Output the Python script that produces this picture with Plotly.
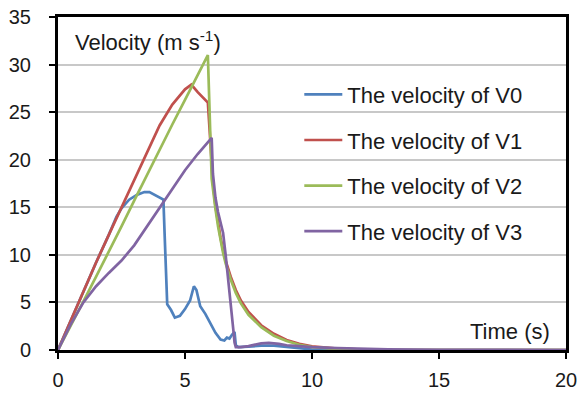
import plotly.graph_objects as go

# ---- data ----
t_v0 = [0, 0.5, 1, 1.5, 2, 2.3, 2.5, 2.8, 3.1, 3.4, 3.6, 3.8, 4.0, 4.15, 4.2, 4.25, 4.3, 4.45,
        4.6, 4.8, 5.0, 5.2, 5.35, 5.45, 5.6, 5.8, 6.0, 6.2, 6.4, 6.55, 6.65, 6.75, 6.85, 6.95,
        7.0, 7.1, 7.5, 8.0, 8.5, 9.0, 9.5, 10, 11, 20]
v_v0 = [0, 3.1, 6.2, 9.2, 12.1, 14.0, 14.9, 15.8, 16.3, 16.6, 16.6, 16.3, 16.0, 15.8, 12.0, 8.0,
        4.8, 4.2, 3.4, 3.6, 4.3, 5.2, 6.7, 6.3, 4.6, 3.8, 2.8, 1.8, 1.1, 1.0, 1.3, 1.2, 1.6, 1.9,
        0.5, 0.3, 0.35, 0.45, 0.45, 0.35, 0.2, 0.05, 0, 0]

t_v1 = [0, 0.5, 1, 1.5, 2, 2.5, 3, 3.5, 4, 4.5, 5, 5.25, 5.5, 5.9, 6.0, 6.1, 6.2, 6.3, 6.4, 6.5,
        6.6, 6.8, 7.0, 7.2, 7.5, 8.0, 8.5, 9.0, 9.5, 10, 11, 12, 13, 20]
v_v1 = [0, 3.1, 6.2, 9.2, 12.1, 15.0, 17.9, 20.8, 23.6, 25.8, 27.4, 27.9, 27.1, 26.0, 22.0, 17.6,
        15.1, 13.3, 11.8, 10.5, 9.4, 7.7, 6.3, 5.2, 4.0, 2.6, 1.7, 1.05, 0.65, 0.38, 0.14, 0.05, 0, 0]

t_v2 = [0, 0.5, 1, 1.5, 2, 2.5, 3, 3.5, 4, 4.5, 5, 5.5, 5.9, 6.05, 6.1, 6.2, 6.3, 6.4, 6.5, 6.6,
        6.8, 7.0, 7.2, 7.5, 8.0, 8.5, 9.0, 9.5, 10, 11, 12, 13, 20]
v_v2 = [0, 2.5, 5.1, 7.7, 10.3, 13.0, 15.7, 18.4, 21.0, 23.7, 26.3, 28.9, 31.0, 18.0, 16.8, 14.8,
        13.0, 11.5, 10.2, 9.1, 7.4, 6.0, 4.9, 3.7, 2.4, 1.5, 0.95, 0.55, 0.3, 0.12, 0.04, 0, 0]

t_v3 = [0, 0.5, 1, 1.5, 2, 2.5, 3, 3.5, 4, 4.5, 5, 5.5, 6.05, 6.1, 6.2, 6.3, 6.4, 6.5, 6.6, 6.7,
        6.8, 6.9, 6.95, 7.0, 7.2, 7.5, 8.0, 8.3, 8.7, 9.0, 9.5, 10, 11, 12, 13, 14, 15, 20]
v_v3 = [0, 2.7, 5.0, 6.7, 8.1, 9.4, 11.0, 13.0, 15.0, 17.0, 18.9, 20.6, 22.3, 18.5, 16.0, 14.5,
        13.3, 12.3, 10.0, 7.6, 5.2, 2.2, 0.8, 0.3, 0.3, 0.4, 0.7, 0.75, 0.65, 0.5, 0.4, 0.3, 0.2,
        0.12, 0.08, 0.05, 0.02, 0]

series_names = ["The velocity of V0", "The velocity of V1", "The velocity of V2", "The velocity of V3"]
series_colors = ["#4F81BD", "#C0504D", "#9BBB59", "#8064A2"]
x_ticks = [0, 5, 10, 15, 20]
y_ticks = [0, 5, 10, 15, 20, 25, 30, 35]

FONT = "Arial, Liberation Sans, sans-serif"

fig = go.Figure()
for i, (tt, vv) in enumerate([(t_v0, v_v0), (t_v1, v_v1), (t_v2, v_v2), (t_v3, v_v3)]):
    fig.add_trace(go.Scatter(
        x=tt, y=vv, mode="lines", name=series_names[i],
        line=dict(color=series_colors[i], width=2.7),
        legendgroup=f"g{i}", cliponaxis=True,
    ))

fig.update_layout(
    width=578, height=397,
    margin=dict(l=58, r=12, t=17, b=47),
    paper_bgcolor="white", plot_bgcolor="white",
    font=dict(family=FONT, size=20, color="#1a1a1a"),
    showlegend=True,
    legend=dict(
        x=0.475, xanchor="left", y=0.83, yanchor="top",
        bgcolor="rgba(0,0,0,0)", font=dict(size=22, family=FONT, color="#1a1a1a"),
        tracegroupgap=14, itemwidth=38, traceorder="grouped",
    ),
    xaxis=dict(
        range=[0, 20], tickvals=x_ticks, showgrid=False, zeroline=False, automargin=False,
        showline=True, linecolor="black", linewidth=3, mirror=True,
        ticks="outside", ticklen=6, tickwidth=2, tickcolor="black",
        tickfont=dict(size=20, family=FONT, color="#1a1a1a"), ticklabelstandoff=4,
    ),
    yaxis=dict(
        range=[0, 35], tickvals=y_ticks, showgrid=True, gridcolor="#c8c8c8", gridwidth=1.5,
        zeroline=False, showline=True, linecolor="black", linewidth=3, mirror=True,
        automargin=False,
        ticks="outside", ticklen=6, tickwidth=2, tickcolor="black",
        tickfont=dict(size=20, family=FONT, color="#1a1a1a"), ticklabelstandoff=14,
    ),
    annotations=[
        dict(x=0.6, y=32.5, xref="x", yref="y", xanchor="left", yanchor="middle",
             text="Velocity (m s<sup>-1</sup>)", showarrow=False,
             font=dict(size=22, family=FONT, color="#1a1a1a")),
        dict(x=19.45, y=1.9, xref="x", yref="y", xanchor="right", yanchor="middle",
             text="Time (s)", showarrow=False,
             font=dict(size=22, family=FONT, color="#1a1a1a")),
    ],
)

fig.write_html(
    "out.html",
    config={"displayModeBar": False},
    post_script="document.body.style.margin='0';document.body.style.padding='0';",
)
